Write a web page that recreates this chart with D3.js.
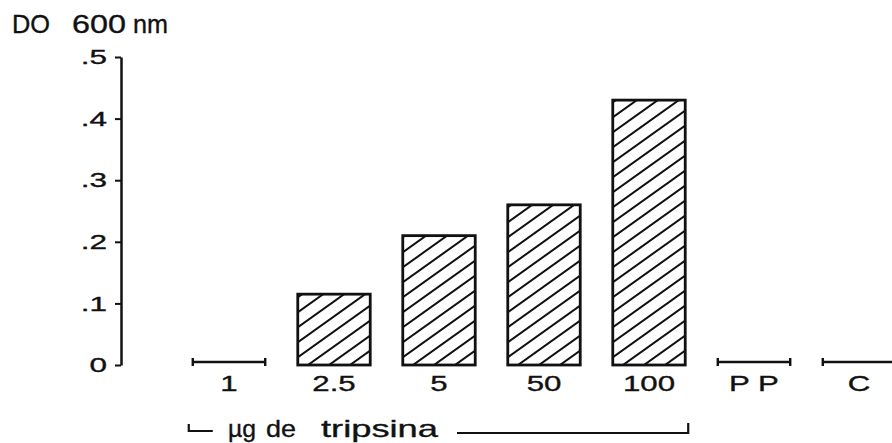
<!DOCTYPE html>
<html>
<head>
<meta charset="utf-8">
<script src="https://cdn.jsdelivr.net/npm/d3@7"></script>
<style>
    body { margin: 0; background: #fff; }
    text { font-family: "Liberation Sans", Arial, Helvetica, sans-serif; fill: #111; stroke: #111; stroke-width: 0.35px; }
</style>
</head>
<body>
<svg id="chart" width="892" height="443"></svg>
<script>
var categories = ["1", "2.5", "5", "50", "100", "P P", "C"];
var values = [0, 0.115, 0.21, 0.26, 0.43, 0, 0];
var yTicks = [0, 0.1, 0.2, 0.3, 0.4, 0.5];
var yTickLabels = ["0", ".1", ".2", ".3", ".4", ".5"];
var yTitle = ["DO", "600", "nm"];
var groupWords = ["µg", "de", "tripsina"];

var svg = d3.select("#chart");
var ink = "#111";

var x = d3.scaleBand()
    .domain(categories)
    .range([176.5, 911.5])
    .paddingInner(0.31)
    .paddingOuter(0.155);

var y = d3.scaleLinear()
    .domain([0, 0.5])
    .range([365, 57]);

// hatch fill
var pat = svg.append("defs").append("pattern")
    .attr("id", "hatch")
    .attr("patternUnits", "userSpaceOnUse")
    .attr("width", 21)
    .attr("height", 15);
pat.append("path")
    .attr("d", "M0,15 L21,0 M-10.5,7.5 L10.5,-7.5 M10.5,22.5 L31.5,7.5")
    .attr("stroke", ink)
    .attr("stroke-width", 2)
    .attr("fill", "none");

// y axis
var yAxis = svg.append("g")
    .attr("transform", "translate(121,0)")
    .call(d3.axisLeft(y)
        .tickValues(yTicks)
        .tickFormat(function(d, i) { return yTickLabels[i]; })
        .tickSize(6)
        .tickSizeOuter(0));
yAxis.select(".domain").attr("stroke", ink).attr("stroke-width", 2.5);
yAxis.selectAll(".tick line").attr("stroke", ink).attr("stroke-width", 2);
yAxis.selectAll(".tick text")
    .attr("font-size", 21)
    .attr("fill", ink)
    .attr("transform", "scale(1.5,1)")
    .attr("x", -14 / 1.5);

// title
var tx = [12, 72, 133], tlen = [38, 54, 35], tsize = [26, 26, 25];
svg.selectAll("text.ytitle")
    .data(yTitle)
    .enter().append("text")
    .attr("class", "ytitle")
    .attr("x", function(d, i) { return tx[i]; })
    .attr("y", 33)
    .attr("font-size", function(d, i) { return tsize[i]; })
    .attr("textLength", function(d, i) { return tlen[i]; })
    .attr("lengthAdjust", "spacingAndGlyphs")
    .text(function(d) { return d; });

var data = categories.map(function(c, i) { return { cat: c, value: values[i] }; });

// bars
svg.selectAll("rect.bar")
    .data(data.filter(function(d) { return d.value > 0; }))
    .enter().append("rect")
    .attr("class", "bar")
    .attr("x", function(d) { return x(d.cat); })
    .attr("y", function(d) { return y(d.value); })
    .attr("width", x.bandwidth())
    .attr("height", function(d) { return y(0) - y(d.value); })
    .attr("fill", "url(#hatch)")
    .attr("stroke", ink)
    .attr("stroke-width", 2.8);

// zero bars drawn as flat markers
var zero = svg.selectAll("g.zero")
    .data(data.filter(function(d) { return d.value === 0; }))
    .enter().append("g")
    .attr("class", "zero");
zero.append("path")
    .attr("d", function(d) {
        var x0 = x(d.cat), x1 = x0 + x.bandwidth(), yy = y(0) - 3;
        return "M" + x0 + "," + yy + "H" + x1 +
            "M" + x0 + "," + (yy - 4) + "V" + (yy + 4) +
            "M" + x1 + "," + (yy - 4) + "V" + (yy + 4);
    })
    .attr("stroke", ink)
    .attr("stroke-width", 2.4)
    .attr("fill", "none");

// category labels
svg.selectAll("g.lab")
    .data(categories)
    .enter().append("g")
    .attr("class", "lab")
    .attr("transform", function(d) { return "translate(" + (x(d) + x.bandwidth() / 2) + ",391)"; })
    .append("text")
    .attr("transform", "scale(1.42,1)")
    .attr("text-anchor", "middle")
    .attr("font-size", 22)
    .style("white-space", "pre")
    .text(function(d) { return d; });

// bracket for the trypsin doses
var bLeft = x("1") - 4, bRight = x("100") + x.bandwidth() + 3;
svg.append("path")
    .attr("d", "M" + bLeft + ",424V431H" + (bLeft + 24))
    .attr("stroke", ink).attr("stroke-width", 2.2).attr("fill", "none");
svg.append("path")
    .attr("d", "M457,433H" + bRight + "V423")
    .attr("stroke", ink).attr("stroke-width", 2.2).attr("fill", "none");

var gx = [228, 266, 321], glen = [28, 30, 117];
svg.selectAll("text.group")
    .data(groupWords)
    .enter().append("text")
    .attr("class", "group")
    .attr("x", function(d, i) { return gx[i]; })
    .attr("y", 437)
    .attr("font-size", 24)
    .attr("textLength", function(d, i) { return glen[i]; })
    .attr("lengthAdjust", "spacingAndGlyphs")
    .text(function(d) { return d; });
</script>
</body>
</html>
